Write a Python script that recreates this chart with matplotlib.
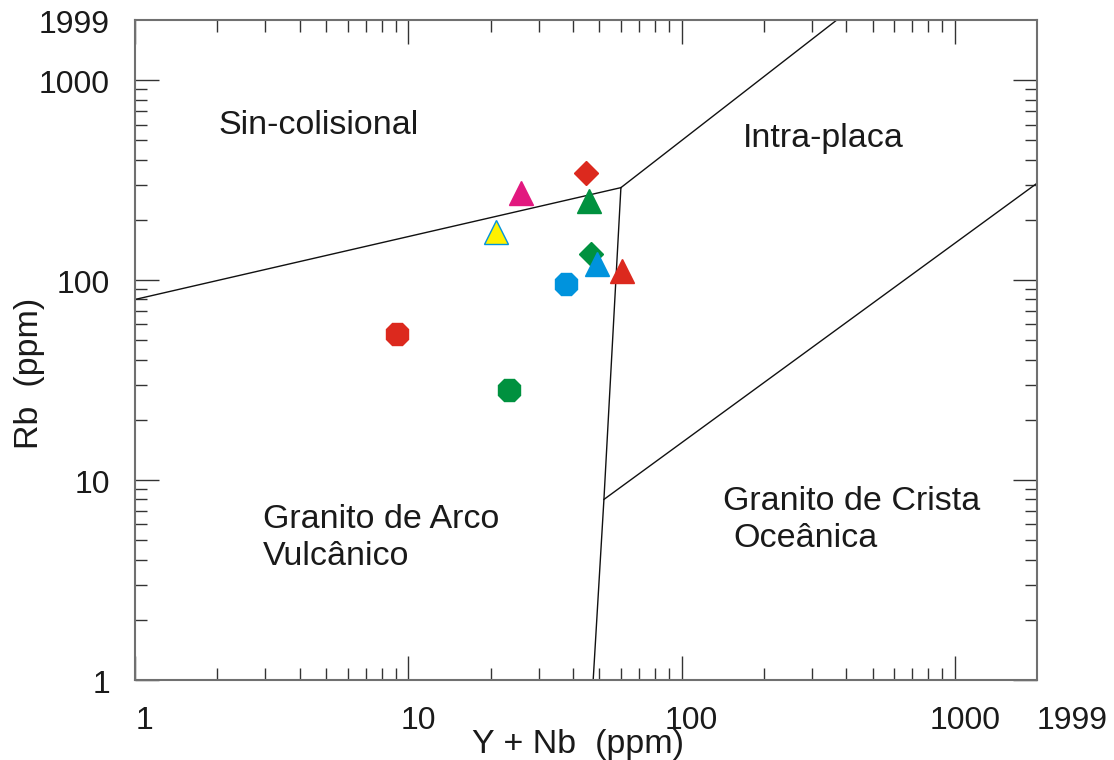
import matplotlib
matplotlib.use("Agg")
import matplotlib.pyplot as plt
from matplotlib.ticker import LogLocator, NullFormatter
from matplotlib.transforms import ScaledTranslation, blended_transform_factory

plt.rcParams['font.family'] = ['Liberation Sans', 'DejaVu Sans']

W, H = 1114, 760
FS_TICK = 23
FS = 24.5

# Pearce diagram field boundaries (Y+Nb, Rb)
vag_syn_x = [1, 60]
vag_syn_y = [80, 290]
syn_wpg_x = [60, 370]
syn_wpg_y = [290, 1999]
vag_wpg_x = [60, 52, 47.5]
vag_wpg_y = [290, 8, 1]
wpg_org_x = [52, 1999]
wpg_org_y = [8, 305]

# samples
oct_x = [9.1, 23.4, 37.7]
oct_y = [54, 28.2, 95.5]
oct_colors = ['#dc291e', '#00913f', '#0093dd']

dia_x = [44.7, 46.5]
dia_y = [342, 135]
dia_colors = ['#dc291e', '#00913f']

tri_x = [25.9, 45.9, 20.9, 48.9, 60.4]
tri_y = [273, 248, 174, 121, 110.5]
tri_colors = ['#e2187f', '#00913f', '#fff100', '#0093dd', '#dc291e']
tri_edges = ['#e2187f', '#00913f', '#0093dd', '#0093dd', '#dc291e']

tick_values = [1, 10, 100, 1000, 1999]
tick_labels = ['1', '10', '100', '1000', '1999']

fig = plt.figure(figsize=(W / 100, H / 100), dpi=100)
ax = fig.add_axes([135 / W, 80 / H, 902 / W, 660 / H])
ax.set_xscale('log')
ax.set_yscale('log')

for xs, ys in [(vag_syn_x, vag_syn_y), (syn_wpg_x, syn_wpg_y),
               (vag_wpg_x, vag_wpg_y), (wpg_org_x, wpg_org_y)]:
    ax.plot(xs, ys, color='#111111', lw=1.0, zorder=2)

for x, y, c in zip(oct_x, oct_y, oct_colors):
    ax.plot(x, y, marker='8', ms=17.5, color=c, mec=c, ls='none', zorder=3)
for x, y, c in zip(dia_x, dia_y, dia_colors):
    ax.plot(x, y, marker='D', ms=12.5, color=c, mec=c, ls='none', zorder=3)
for x, y, c, e in zip(tri_x, tri_y, tri_colors, tri_edges):
    ax.plot(x, y, marker='^', ms=17.5, color=c, mec=e, mew=1.0, ls='none', zorder=4)

for axis in (ax.xaxis, ax.yaxis):
    axis.set_major_locator(LogLocator(base=10, numticks=10))
    axis.set_minor_locator(LogLocator(base=10, subs=range(2, 10), numticks=20))
    axis.set_major_formatter(NullFormatter())
    axis.set_minor_formatter(NullFormatter())
ax.set_xlim(1, 1999)
ax.set_ylim(1, 1999)

ax.tick_params(which='both', direction='in', top=True, right=True,
               color='#333333', width=1.0)
ax.tick_params(which='major', length=17.5)
ax.tick_params(which='minor', length=8.5)
for sp in ax.spines.values():
    sp.set_color('#707070')
    sp.set_linewidth(1.5)

# tick labels
xtrans = blended_transform_factory(ax.transData, ax.transAxes)
ytrans = blended_transform_factory(ax.transAxes, ax.transData)
for v, lab in zip(tick_values, tick_labels):
    if v == 1999:
        ax.text(v, 0, lab, transform=xtrans + ScaledTranslation(0, -26 / 100, fig.dpi_scale_trans),
                ha='left', va='top', fontsize=FS_TICK, color='#1a1a1a')
    else:
        ax.text(v, 0, lab, transform=xtrans + ScaledTranslation(10 / 100, -26 / 100, fig.dpi_scale_trans),
                ha='center', va='top', fontsize=FS_TICK, color='#1a1a1a')
    ax.text(0, v, lab, transform=ytrans + ScaledTranslation(-25 / 100, -5 / 100, fig.dpi_scale_trans),
            ha='right', va='center', fontsize=FS_TICK, color='#1a1a1a')


def ftext(x, y, s, **kw):
    fig.text(x / W, 1 - y / H, s, fontsize=FS, color='#1a1a1a', va='baseline', **kw)


ftext(218, 134, 'Sin-colisional')
ftext(743, 147, 'Intra-placa')
ftext(263, 528, 'Granito de Arco')
ftext(263, 565, 'Vulcânico')
ftext(723, 510, 'Granito de Crista')
ftext(733, 547, 'Oceânica')

ftext(472, 753, 'Y + Nb  (ppm)')
fig.text(38 / W, 1 - 373 / H, 'Rb  (ppm)', fontsize=FS, color='#1a1a1a',
         rotation=90, rotation_mode='anchor', ha='center', va='baseline')

fig.savefig('out.png', dpi=100)
